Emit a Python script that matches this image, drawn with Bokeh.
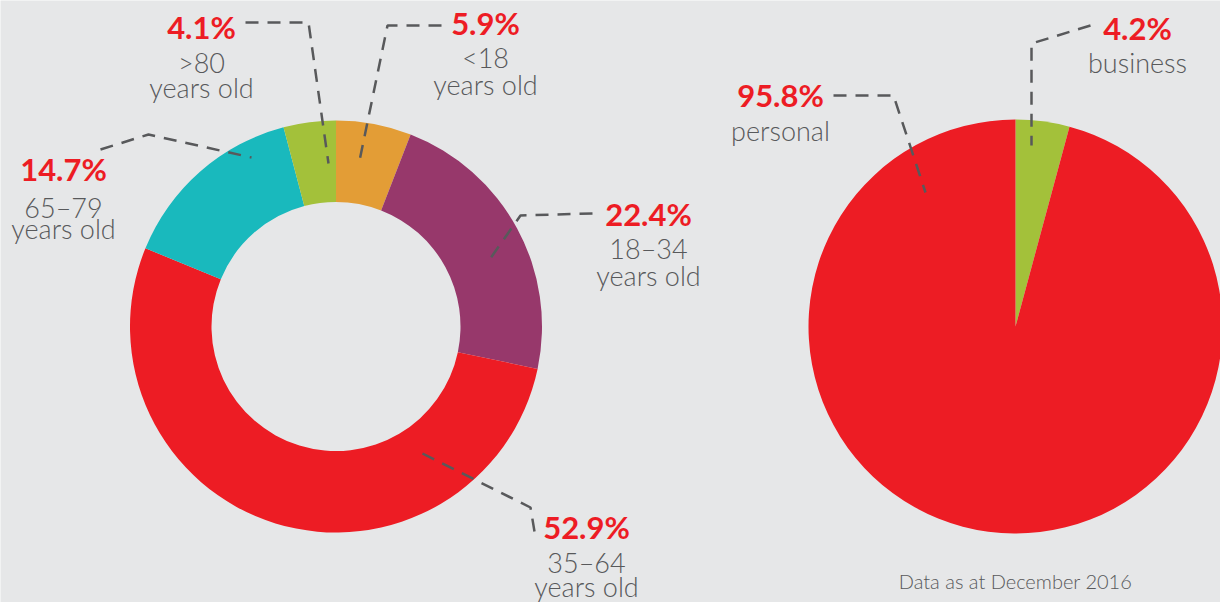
import numpy as np
from bokeh.plotting import figure
from bokeh.models import Range1d, ColumnDataSource
from bokeh.core.properties import value
from bokeh.embed import file_html
from bokeh.resources import INLINE

# ---------------- data ----------------
age_groups = ["<18", "18–34", "35–64", "65–79", ">80"]
age_shares = [5.9, 22.4, 52.9, 14.7, 4.1]
age_colors = ["#E39D36", "#97386B", "#ED1C24", "#19B9BD", "#A3C13A"]
age_suffix = "years old"

account_types = ["business", "personal"]
account_shares = [4.2, 95.8]
account_colors = ["#A3C13A", "#ED1C24"]

footnote = "Data as at December 2016"

# ---------------- layout (reference pixel coordinates) ----------------
W, H = 1220, 602
BG = "#E6E7E8"
GRAY = "#58595B"
RED = "#ED1C24"
LABEL_FONT = value("Lato Light")
NUM_FONT = value("Lato")
NUM_SHIFT = 11   # empirical offset of rendered baseline
LAB_SHIFT = 10


def py(y):
    return 602 - y


donut_cx, donut_cy, donut_r_in, donut_r_out = 335.5, py(326), 124.5, 206
pie_cx, pie_cy, pie_r = 1015, py(326), 207

# label anchor x, baseline of number, category line and "years old" line
age_lab_x = [485, 648, 586, 63, 201]
age_num_y = [33, 224, 537, 179, 37]
age_cat_y = [67, 258, 572, 217, 72]
age_sub_y = [94, 285, 596, 238, 97]
age_leaders = [
    [(441, 25), (387, 25), (358, 165)],
    [(592, 213), (520, 215), (487, 262)],
    [(422, 453), (530, 507), (535, 537)],
    [(100, 149), (148, 134), (251, 157)],
    [(245, 22), (308, 22), (328, 163)],
]

acc_lab_x = [1137, 780]
acc_num_y = [38, 105]
acc_cat_y = [72, 140]
acc_leaders = [
    [(1090, 25), (1031, 43), (1031, 145)],
    [(833, 95), (893, 95), (925, 192)],
]


def wedge_angles(shares):
    frac = np.array(shares, dtype=float) / float(sum(shares))
    cum = np.concatenate([[0.0], np.cumsum(frac)])
    start = np.pi / 2 - 2 * np.pi * cum[1:]
    end = np.pi / 2 - 2 * np.pi * cum[:-1]
    return start, end


p = figure(width=W, height=H, x_range=Range1d(0, W), y_range=Range1d(0, H),
           output_backend="svg", toolbar_location=None, min_border=0)
p.axis.visible = False
p.grid.visible = False
p.outline_line_color = None
p.background_fill_color = BG
p.border_fill_color = BG

# donut
a_start, a_end = wedge_angles(age_shares)
donut_src = ColumnDataSource(dict(start=a_start, end=a_end, color=age_colors, name=age_groups))
p.annular_wedge(x=donut_cx, y=donut_cy, inner_radius=donut_r_in, outer_radius=donut_r_out,
                start_angle="start", end_angle="end", fill_color="color", line_color=None,
                source=donut_src)

# pie
b_start, b_end = wedge_angles(account_shares)
pie_src = ColumnDataSource(dict(start=b_start, end=b_end, color=account_colors, name=account_types))
p.wedge(x=pie_cx, y=pie_cy, radius=pie_r, start_angle="start", end_angle="end",
        fill_color="color", line_color=None, source=pie_src)

# leader lines
for pts in age_leaders + acc_leaders:
    xs = [pt[0] for pt in pts]
    ys = [py(pt[1]) for pt in pts]
    p.line(xs, ys, line_color=GRAY, line_width=2.5, line_dash="13 9")

# labels
p.text(x=age_lab_x, y=[py(v - NUM_SHIFT) for v in age_num_y], text=[f"{s:.1f}%" for s in age_shares],
       text_color=RED, text_font=NUM_FONT, text_font_style="bold", text_font_size="31px",
       text_align="center", text_baseline="alphabetic")
p.text(x=age_lab_x, y=[py(v - LAB_SHIFT) for v in age_cat_y], text=age_groups,
       text_color=GRAY, text_font=LABEL_FONT, text_font_size="27px",
       text_align="center", text_baseline="alphabetic")
p.text(x=age_lab_x, y=[py(v - LAB_SHIFT) for v in age_sub_y], text=[age_suffix] * len(age_groups),
       text_color=GRAY, text_font=LABEL_FONT, text_font_size="27px",
       text_align="center", text_baseline="alphabetic")

p.text(x=acc_lab_x, y=[py(v - NUM_SHIFT) for v in acc_num_y], text=[f"{s:.1f}%" for s in account_shares],
       text_color=RED, text_font=NUM_FONT, text_font_style="bold", text_font_size="31px",
       text_align="center", text_baseline="alphabetic")
p.text(x=acc_lab_x, y=[py(v - LAB_SHIFT) for v in acc_cat_y], text=account_types,
       text_color=GRAY, text_font=LABEL_FONT, text_font_size="27px",
       text_align="center", text_baseline="alphabetic")

p.text(x=[1015], y=[py(590 - LAB_SHIFT)], text=[footnote], text_color=GRAY, text_font=LABEL_FONT,
       text_font_size="20px", text_align="center", text_baseline="alphabetic")

open("out.html", "w").write(file_html(p, INLINE))
